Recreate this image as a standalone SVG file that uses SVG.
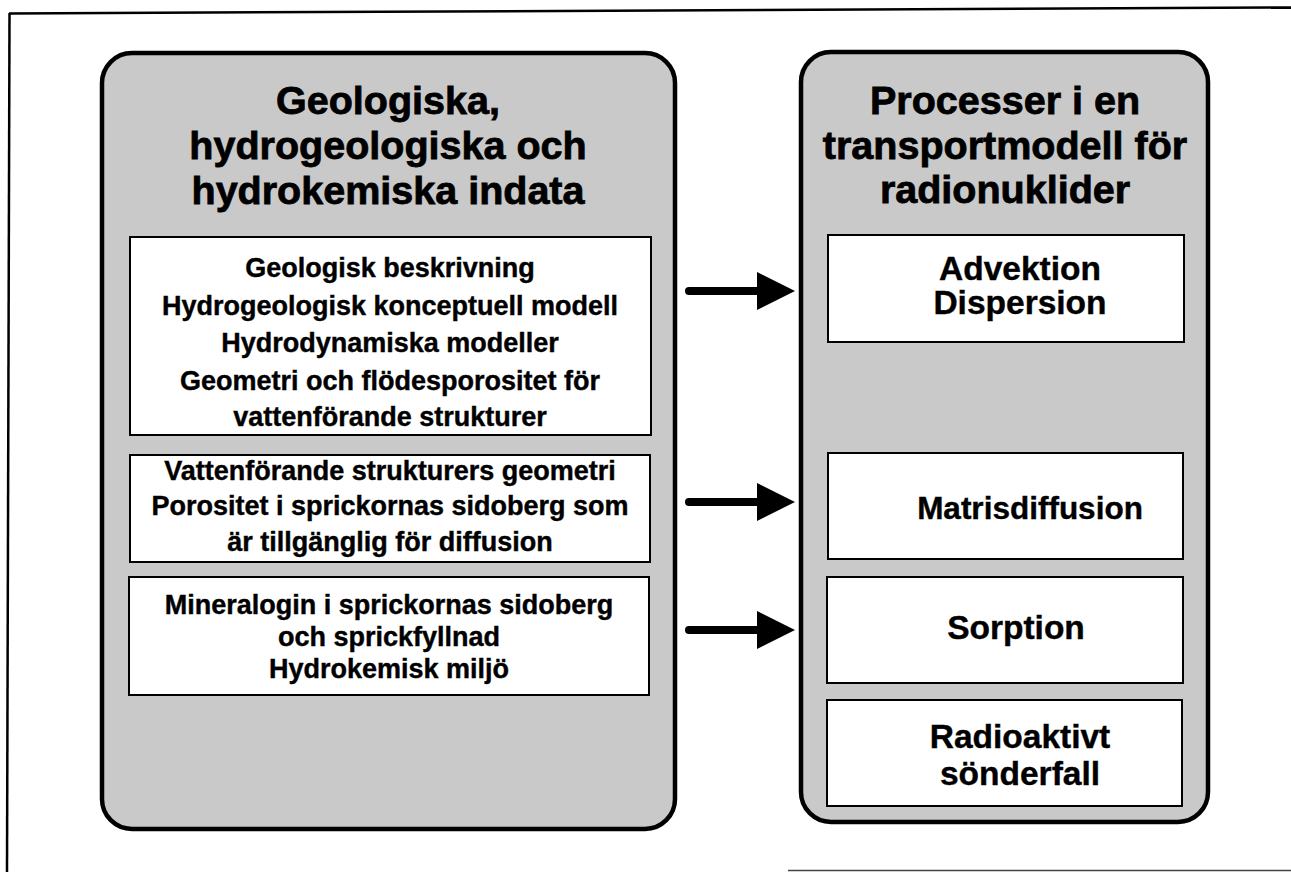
<svg xmlns="http://www.w3.org/2000/svg" width="1291" height="872" viewBox="0 0 1291 872">
  <defs>
    <style>
      .frame{fill:none;stroke:#000;stroke-width:2.5}
      .panel{fill:#c9c9c9;stroke:#000;stroke-width:4.5}
      .box{fill:#fff;stroke:#000;stroke-width:2}
      text{font-family:"Liberation Sans",Arial,Helvetica,sans-serif;font-weight:bold;fill:#000;text-anchor:middle;stroke:#000;stroke-width:0.4}
      .title{font-size:39.5px;stroke-width:0.8}
      .item{font-size:27px}
      .proc{font-size:33.5px}
      .shaft{stroke:#000;stroke-width:8;stroke-linecap:round;fill:none}
    </style>
    <marker id="head" markerUnits="userSpaceOnUse" viewBox="0 0 38 38" markerWidth="38" markerHeight="38" refX="5" refY="19" orient="auto">
      <path d="M0,0 L38,19 L0,38 Z" fill="#000"/>
    </marker>
  </defs>

  <!-- page frame -->
  <g id="frame">
    <line class="frame" x1="9" y1="13.5" x2="1291" y2="7.5"/>
    <line class="frame" x1="9.5" y1="13" x2="7" y2="872"/>
    <line x1="788" y1="870.5" x2="1291" y2="870.5" stroke="#444" stroke-width="1.5"/>
  </g>

  <!-- input data panel -->
  <g id="indata">
    <rect class="panel" x="102" y="53" width="573" height="776" rx="30" ry="30"/>
    <text class="title" x="388" y="114">Geologiska,</text>
    <text class="title" x="388" y="159">hydrogeologiska och</text>
    <text class="title" x="388" y="204">hydrokemiska indata</text>
  </g>

  <g id="geologi">
    <rect class="box" x="130" y="237" width="521" height="198"/>
    <text class="item" x="390" y="277">Geologisk beskrivning</text>
    <text class="item" x="390" y="315">Hydrogeologisk konceptuell modell</text>
    <text class="item" x="390" y="352">Hydrodynamiska modeller</text>
    <text class="item" x="390" y="390">Geometri och flödesporositet för</text>
    <text class="item" x="390" y="426">vattenförande strukturer</text>
  </g>

  <g id="struktur">
    <rect class="box" x="130" y="455" width="520" height="107"/>
    <text class="item" x="390" y="480">Vattenförande strukturers geometri</text>
    <text class="item" x="390" y="515">Porositet i sprickornas sidoberg som</text>
    <text class="item" x="390" y="551">är tillgänglig för diffusion</text>
  </g>

  <g id="mineralogi">
    <rect class="box" x="129" y="577" width="520" height="118"/>
    <text class="item" x="389" y="614">Mineralogin i sprickornas sidoberg</text>
    <text class="item" x="389" y="646">och sprickfyllnad</text>
    <text class="item" x="389" y="678">Hydrokemisk miljö</text>
  </g>

  <!-- transport model panel -->
  <g id="processer">
    <rect class="panel" x="801" y="52" width="407" height="770" rx="30" ry="30"/>
    <text class="title" x="1005" y="114">Processer i en</text>
    <text class="title" x="1005" y="159">transportmodell för</text>
    <text class="title" x="1005" y="203">radionuklider</text>
  </g>

  <g id="advektion">
    <rect class="box" x="828" y="235" width="356" height="107"/>
    <text class="proc" x="1020" y="280">Advektion</text>
    <text class="proc" x="1020" y="314">Dispersion</text>
  </g>

  <g id="matrisdiffusion">
    <rect class="box" x="828" y="453" width="355" height="106"/>
    <text class="proc" x="1030" y="519" style="font-size:31.5px">Matrisdiffusion</text>
  </g>

  <g id="sorption">
    <rect class="box" x="827" y="577" width="356" height="106"/>
    <text class="proc" x="1016" y="639">Sorption</text>
  </g>

  <g id="sonderfall">
    <rect class="box" x="827" y="700" width="355" height="106"/>
    <text class="proc" x="1020" y="748">Radioaktivt</text>
    <text class="proc" x="1020" y="785">sönderfall</text>
  </g>

  <!-- connectors -->
  <g id="connectors">
    <line class="shaft" x1="689" y1="291" x2="762" y2="291" marker-end="url(#head)"/>
    <line class="shaft" x1="689" y1="502" x2="762" y2="502" marker-end="url(#head)"/>
    <line class="shaft" x1="689" y1="630" x2="762" y2="630" marker-end="url(#head)"/>
  </g>
</svg>
